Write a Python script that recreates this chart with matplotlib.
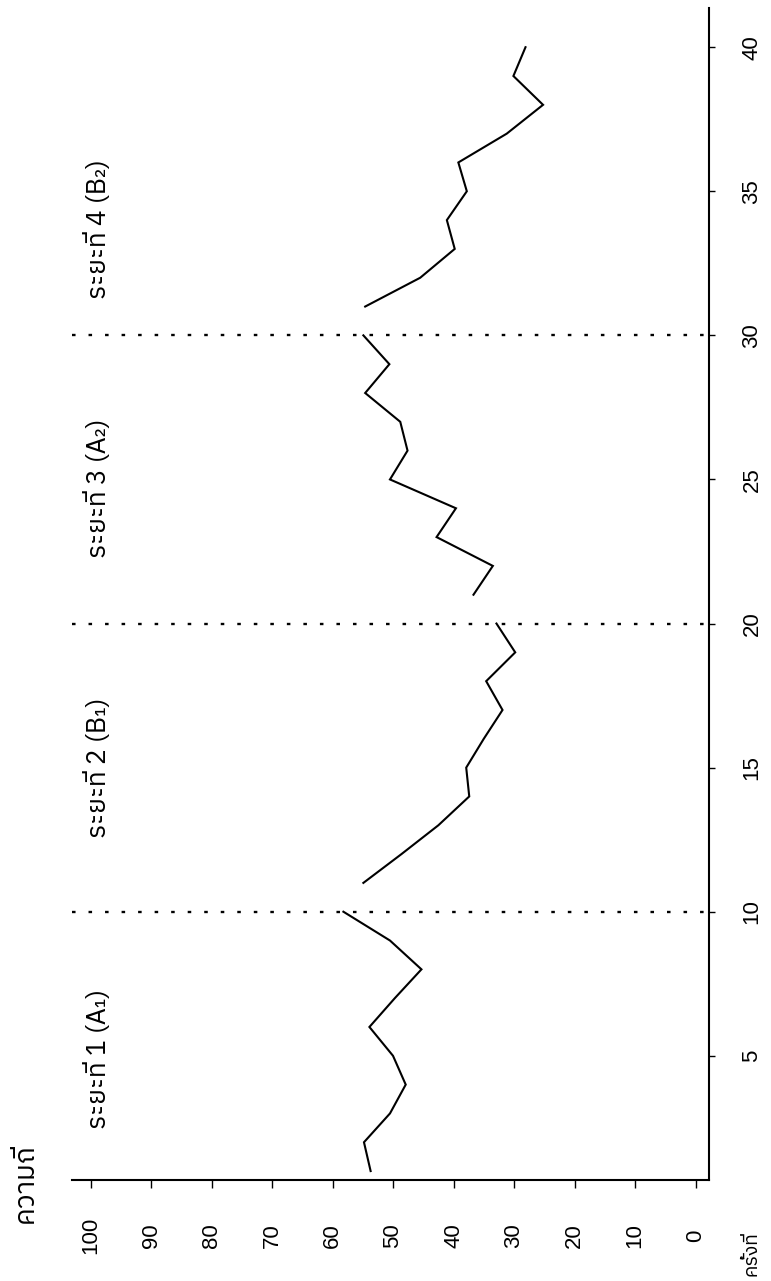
import matplotlib
matplotlib.use("Agg")
import matplotlib.pyplot as plt
from matplotlib import font_manager as fm
from matplotlib.ft2font import FT2Font

# ---------------- data ----------------
phase1_sessions = [1, 2, 3, 4, 5, 6, 7, 8, 9, 10]
phase1_values = [53.7, 54.8, 50.5, 47.9, 50.0, 53.9, 49.7, 45.3, 50.5, 58.2]
phase2_sessions = [11, 12, 13, 14, 15, 16, 17, 18, 19, 20]
phase2_values = [54.9, 48.6, 42.5, 37.4, 37.9, 35.0, 31.9, 34.6, 29.8, 32.9]
phase3_sessions = [21, 22, 23, 24, 25, 26, 27, 28, 29, 30]
phase3_values = [36.7, 33.5, 42.8, 39.6, 50.5, 47.6, 48.8, 54.6, 50.6, 54.9]
phase4_sessions = [31, 32, 33, 34, 35, 36, 37, 38, 39, 40]
phase4_values = [54.6, 45.5, 39.8, 41.1, 37.8, 39.2, 31.2, 25.2, 30.1, 28.1]

phase_boundaries = [10, 20, 30]
phase_labels = ["ระยะที่ 1 (A₁)", "ระยะที่ 2 (B₁)", "ระยะที่ 3 (A₂)", "ระยะที่ 4 (B₂)"]
phase_label_sessions = [4.9, 15.0, 24.7, 33.7]
freq_ticks = [0, 10, 20, 30, 40, 50, 60, 70, 80, 90, 100]
session_ticks = [5, 10, 15, 20, 25, 30, 35, 40]
freq_title = "ความถี่"
session_title = "ครั้งที่"

# ---------------- font with Thai glyphs ----------------
thai_font = None
cands = [f for f in fm.fontManager.ttflist if "Thai" in f.name]
cands.sort(key=lambda f: (("Looped" in f.name), ("Serif" in f.name), f.weight != 400))
if cands:
    thai_font = cands[0].name
else:
    for f in fm.fontManager.ttflist:
        try:
            if 0x0E01 in FT2Font(f.fname).get_charmap():
                thai_font = f.name
                break
        except Exception:
            pass
families = ([thai_font] if thai_font else []) + ["Liberation Sans", "DejaVu Sans"]
plt.rcParams["font.family"] = families
num_family = ["Liberation Sans", "DejaVu Sans"]

# ---------------- figure ----------------
W, H = 771, 1281
fig = plt.figure(figsize=(W / 100, H / 100), dpi=100)
ax = fig.add_axes([72 / W, 1 - 1180 / H, (709 - 72) / W, (1180 - 8) / H])

for sess, vals in [(phase1_sessions, phase1_values), (phase2_sessions, phase2_values),
                   (phase3_sessions, phase3_values), (phase4_sessions, phase4_values)]:
    ax.plot(vals, sess, color="black", lw=1.5, solid_joinstyle="miter")

for b in phase_boundaries:
    ax.axhline(b, color="black", lw=1.7, linestyle=(0, (1.5, 5.5)))

ax.set_xlim(103.06, -2.23)
ax.set_ylim(0.69, 41.36)

for s in ["top", "left"]:
    ax.spines[s].set_visible(False)
for s in ["bottom", "right"]:
    ax.spines[s].set_linewidth(1.5)

ax.yaxis.tick_right()
ax.set_xticks(freq_ticks)
ax.set_xticklabels([str(t) for t in freq_ticks])
ax.set_yticks(session_ticks)
ax.set_yticklabels([str(t) for t in session_ticks])
ax.tick_params(axis="x", direction="out", length=6, width=1.0, pad=34, labelsize=16)
ax.tick_params(axis="y", direction="out", length=4, width=1.0, pad=27, labelsize=16)
for lab in ax.get_xticklabels() + ax.get_yticklabels():
    lab.set_rotation(90)
    lab.set_va("center")
    lab.set_ha("center")
    lab.set_family(num_family)

for lbl, s in zip(phase_labels, phase_label_sessions):
    ax.text(98.9, s, lbl, rotation=90, ha="center", va="center", fontsize=19,
            family=families)

fig.text(25 / W, 1 - 1183 / H, freq_title, rotation=90, ha="center", va="center",
         fontsize=20, family=families)
fig.text(752 / W, 1 - 1254 / H, session_title, rotation=90, ha="center", va="center",
         fontsize=14, family=families)

fig.savefig("out.png", dpi=100)
